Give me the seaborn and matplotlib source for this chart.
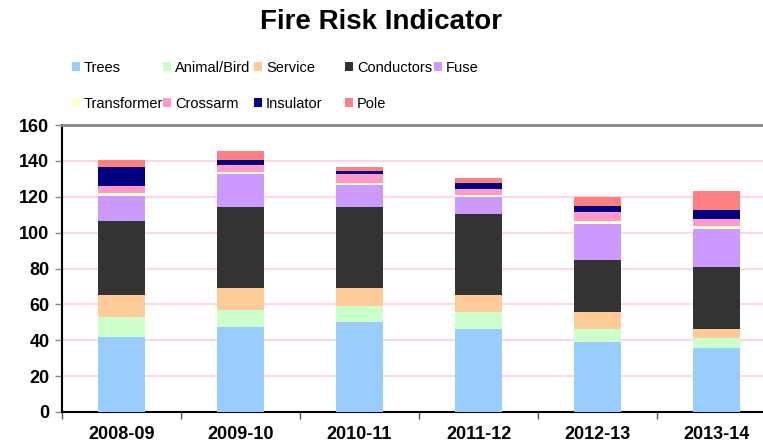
import numpy as np
import pandas as pd
import matplotlib
matplotlib.use("Agg")
import matplotlib.pyplot as plt
from matplotlib.patches import Patch
from matplotlib.ticker import FixedLocator
import seaborn as sns

years = ["2008-09", "2009-10", "2010-11", "2011-12", "2012-13", "2013-14"]
series_names = ["Trees", "Animal/Bird", "Service", "Conductors", "Fuse",
                "Transformer", "Crossarm", "Insulator", "Pole"]
trees = [42, 47.5, 50, 46.5, 39, 35.5]
animal = [11, 9.5, 9, 9, 7, 6]
service = [12, 12, 10, 9.5, 10, 5]
conductors = [41.5, 45.5, 45.5, 45.5, 29, 34.5]
fuse = [14, 18, 12, 9.5, 20, 21]
transformer = [1.7, 1.5, 1, 1, 1.3, 1.5]
crossarm = [4, 3.5, 5, 3.5, 5, 4.3]
insulator = [10.5, 3, 2, 3, 3.3, 5]
pole = [4, 5, 2, 3, 5.4, 10.6]
colors = ["#99CCFF", "#CCFFCC", "#FFCC99", "#333333", "#CC99FF",
          "#FFFFCC", "#FF99CC", "#000080", "#FF8080"]

values = [trees, animal, service, conductors, fuse, transformer, crossarm, insulator, pole]
df = pd.DataFrame({n: v for n, v in zip(series_names, values)})
df["Year"] = years
cum = df[series_names].cumsum(axis=1)

sns.set_style("white")
plt.rcParams["font.family"] = ["Liberation Sans", "DejaVu Sans"]
plt.rcParams["text.color"] = "black"
plt.rcParams["xtick.color"] = "black"
plt.rcParams["ytick.color"] = "black"

fig = plt.figure(figsize=(7.63, 4.46), dpi=100)
ax = fig.add_axes([62/763, 34/446, 714/763, 287/446])

# draw cumulative totals from top series down so each lower segment overlays
for name, col in reversed(list(zip(series_names, colors))):
    sns.barplot(x=df["Year"], y=cum[name], color=col, width=0.4,
                saturation=1, linewidth=0, ax=ax, zorder=3)

ax.set_xlim(-0.5, 5.5)
ax.set_ylim(0, 160)
ax.set_yticks(range(0, 161, 20))
ax.set_xlabel("")
ax.set_ylabel("")
for y in range(20, 160, 20):
    ax.axhline(y, color="#FFD6E8", lw=1.5, zorder=1)

ax.xaxis.set_minor_locator(FixedLocator(np.arange(-0.5, 6, 1)))
ax.tick_params(axis="x", which="major", length=0, pad=10, labelsize=13, labelcolor="black")
ax.tick_params(axis="x", which="minor", length=5, width=1, color="#555555", direction="out", bottom=True)
ax.tick_params(axis="y", which="major", length=5, width=1, color="#888888", direction="out", left=True,
               pad=4, labelsize=13, labelcolor="black")
for lab in ax.get_xticklabels() + ax.get_yticklabels():
    lab.set_fontweight("bold")

ax.spines["left"].set_color("black")
ax.spines["left"].set_linewidth(1.5)
ax.spines["bottom"].set_color("black")
ax.spines["bottom"].set_linewidth(1.5)
ax.spines["top"].set_color("#888888")
ax.spines["top"].set_linewidth(2)
ax.spines["right"].set_visible(False)

fig.text(0.5, 1 - 22/446, "Fire Risk Indicator", ha="center", va="center",
         fontsize=20, fontweight="bold", color="black")

handles = [Patch(facecolor=c, edgecolor="none") for c in colors]
cols = [[0, 5], [1, 6], [2, 7], [3, 8], [4]]
xs = [74, 165, 256, 347, 436]
for idx, x in zip(cols, xs):
    fig.legend([handles[i] for i in idx], [series_names[i] for i in idx],
               loc="upper left", bbox_to_anchor=(x/763 - 0.003, 1 - 61/446),
               frameon=False, ncol=1, borderpad=0, borderaxespad=0,
               handlelength=0.6, handleheight=0.6, handletextpad=0.25,
               labelspacing=1.5, prop={"size": 10.5})

fig.savefig("out.png", dpi=100)
